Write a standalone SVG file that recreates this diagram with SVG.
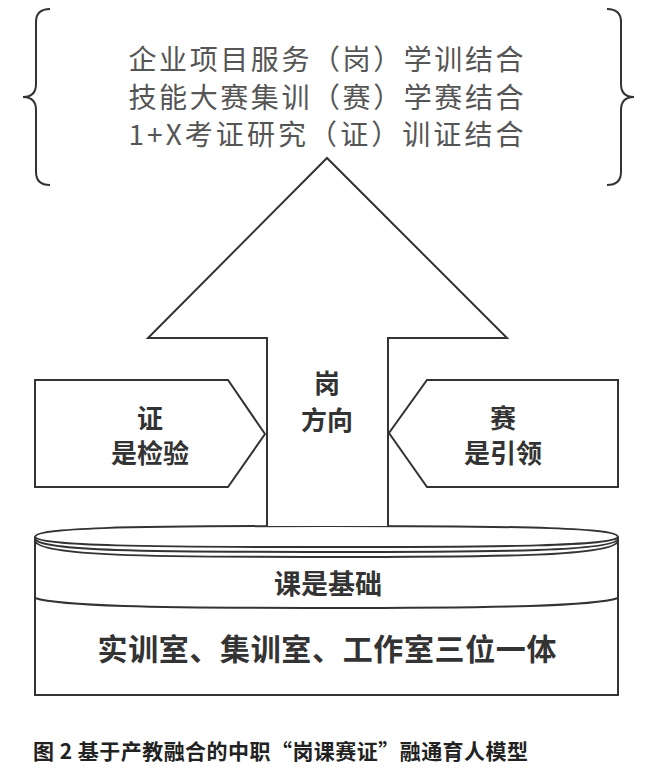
<svg xmlns="http://www.w3.org/2000/svg" width="660" height="772" viewBox="0 0 660 772">
<style>
.ln{fill:none;stroke:#333;stroke-width:2;stroke-linejoin:miter}
.sh{fill:#fff;stroke:#333;stroke-width:2}
.top{font-family:"Noto Sans CJK SC","Noto Sans",sans-serif;font-size:28px;fill:#555;text-anchor:middle}
.lbl{font-family:"Noto Sans CJK SC","Noto Sans",sans-serif;font-size:26px;font-weight:bold;fill:#333;text-anchor:middle}
.cap{font-family:"Noto Sans CJK SC","Noto Sans",sans-serif;font-size:21px;font-weight:bold;fill:#222}
</style>
<rect width="660" height="772" fill="#fff"/>
<g id="goals">
<path class="ln" d="M50,9 Q36,9 36,22 L36,84 Q36,97 23,97 Q36,97 36,110 L36,172 Q36,185 50,185"/>
<path class="ln" d="M607,9 Q621,9 621,22 L621,84 Q621,97 634,97 Q621,97 621,110 L621,172 Q621,185 607,185"/>
<text class="top" x="326" y="70" textLength="395" lengthAdjust="spacing">企业项目服务（岗）学训结合</text>
<text class="top" x="326" y="108" textLength="395" lengthAdjust="spacing">技能大赛集训（赛）学赛结合</text>
<text class="top" x="326" y="145" textLength="395" lengthAdjust="spacing">1+X考证研究（证）训证结合</text>
</g>
<g id="base">
<path class="sh" d="M35,537 C36,528 120,526 327,526 C534,526 617,528 618,537 L618,695 L35,695 Z"/>
<path class="ln" d="M35,537 C40,546 150,547 327,547 C504,547 614,546 618,537"/>
<path class="ln" d="M35,539 C40,551 150,552 327,552 C504,552 614,551 618,539"/>
<path class="ln" d="M35,541 C40,556 150,557 327,557 C504,557 614,556 618,541"/>
<path class="ln" d="M35,598 C60,606 150,608 327,608 C504,608 594,606 618,598"/>
<text class="lbl" x="328" y="594" style="font-size:27px">课是基础</text>
<text class="lbl" x="327" y="660" style="font-size:30px" textLength="459" lengthAdjust="spacing">实训室、集训室、工作室三位一体</text>
</g>
<g id="arrow">
<path class="sh" d="M267,526 L267,338 L148,338 L327,158 L507,338 L388,338 L388,526"/>
<text class="lbl" x="327" y="393">岗</text>
<text class="lbl" x="327" y="430">方向</text>
</g>
<g id="left">
<path class="sh" d="M35,380 L228,380 L265,434 L228,487 L35,487 Z"/>
<text class="lbl" x="150" y="428">证</text>
<text class="lbl" x="150" y="463">是检验</text>
</g>
<g id="right">
<path class="sh" d="M618,380 L427,380 L389,433 L427,487 L618,487 Z"/>
<text class="lbl" x="503" y="428">赛</text>
<text class="lbl" x="503" y="463">是引领</text>
</g>
<g id="connectors"></g>
<text class="cap" x="33" y="759" textLength="495" lengthAdjust="spacing">图 2 基于产教融合的中职“岗课赛证”融通育人模型</text>
</svg>
